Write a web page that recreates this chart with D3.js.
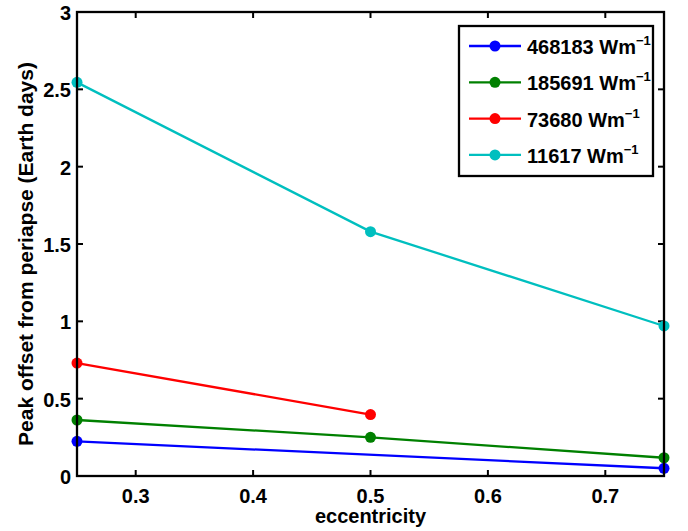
<!DOCTYPE html>
<html>
<head>
<meta charset="utf-8">
<script src="https://cdn.jsdelivr.net/npm/d3@7"></script>
<style>
  body { margin: 0; background: #fff; }
  text { font-family: "Liberation Sans", Arial, Helvetica, sans-serif; font-weight: bold; }
</style>
</head>
<body>
<div id="chart"></div>
<script>
// data
const seriesNames = ["468183", "185691", "73680", "11617"];
const seriesColors = ["#0000ff", "#008000", "#ff0000", "#00bfbf"];
const ecc468183 = [0.25, 0.75];
const peak468183 = [0.224, 0.05];
const ecc185691 = [0.25, 0.5, 0.75];
const peak185691 = [0.362, 0.25, 0.118];
const ecc73680 = [0.25, 0.5];
const peak73680 = [0.73, 0.397];
const ecc11617 = [0.25, 0.5, 0.75];
const peak11617 = [2.545, 1.58, 0.97];
const xTicks = [0.3, 0.4, 0.5, 0.6, 0.7];
const yTicks = [0, 0.5, 1, 1.5, 2, 2.5, 3];

const series = [
  { x: ecc468183, y: peak468183 },
  { x: ecc185691, y: peak185691 },
  { x: ecc73680, y: peak73680 },
  { x: ecc11617, y: peak11617 }
];

const width = 688;
const height = 531;
const margin = { top: 12, right: 24, bottom: 55, left: 77 };

const svg = d3.select("#chart").append("svg")
  .attr("width", width)
  .attr("height", height);

const xScale = d3.scaleLinear()
  .domain([0.25, 0.75])
  .range([margin.left, width - margin.right]);
const yScale = d3.scaleLinear()
  .domain([0, 3])
  .range([height - margin.bottom, margin.top]);

const x0 = margin.left, x1 = width - margin.right;
const y0 = height - margin.bottom, y1 = margin.top;
const tickLen = 6;

// ticks, inward, on all four sides (matlab box)
const axisG = svg.append("g").attr("stroke", "#000").attr("stroke-width", 2);
xTicks.forEach(t => {
  axisG.append("line").attr("x1", xScale(t)).attr("x2", xScale(t)).attr("y1", y0).attr("y2", y0 - tickLen);
  axisG.append("line").attr("x1", xScale(t)).attr("x2", xScale(t)).attr("y1", y1).attr("y2", y1 + tickLen);
});
yTicks.forEach(t => {
  axisG.append("line").attr("x1", x0).attr("x2", x0 + tickLen).attr("y1", yScale(t)).attr("y2", yScale(t));
  axisG.append("line").attr("x1", x1).attr("x2", x1 - tickLen).attr("y1", yScale(t)).attr("y2", yScale(t));
});

// tick labels
svg.append("g").selectAll("text").data(xTicks).join("text")
  .attr("x", d => xScale(d))
  .attr("y", y0 + 27)
  .attr("text-anchor", "middle")
  .attr("font-size", 20)
  .text(d => d);
svg.append("g").selectAll("text").data(yTicks).join("text")
  .attr("x", x0 - 6)
  .attr("y", d => yScale(d) + 8)
  .attr("text-anchor", "end")
  .attr("font-size", 20)
  .text(d => d);

// lines + markers
const line = d3.line()
  .x(d => xScale(d[0]))
  .y(d => yScale(d[1]));

series.forEach((s, i) => {
  const pts = s.x.map((v, j) => [v, s.y[j]]);
  svg.append("path")
    .attr("fill", "none")
    .attr("stroke", seriesColors[i])
    .attr("stroke-width", 2.3)
    .attr("d", line(pts));
  svg.append("g").selectAll("circle").data(pts).join("circle")
    .attr("cx", d => xScale(d[0]))
    .attr("cy", d => yScale(d[1]))
    .attr("r", 5.5)
    .attr("fill", seriesColors[i]);
});

// box
svg.append("rect")
  .attr("x", x0).attr("y", y1)
  .attr("width", x1 - x0).attr("height", y0 - y1)
  .attr("fill", "none")
  .attr("stroke", "#000")
  .attr("stroke-width", 2.3);

// axis labels
svg.append("text")
  .attr("x", (x0 + x1) / 2)
  .attr("y", 523)
  .attr("text-anchor", "middle")
  .attr("font-size", 20)
  .text("eccentricity");
svg.append("text")
  .attr("transform", "translate(33," + 254 + ") rotate(-90)")
  .attr("text-anchor", "middle")
  .attr("font-size", 21)
  .text("Peak offset from periapse (Earth days)");

// legend
const legend = svg.append("g");
legend.append("rect")
  .attr("x", 459).attr("y", 26)
  .attr("width", 194).attr("height", 150)
  .attr("fill", "#fff")
  .attr("stroke", "#000")
  .attr("stroke-width", 2.3);
seriesNames.forEach((name, i) => {
  const ly = 46 + i * 36.3;
  legend.append("line")
    .attr("x1", 469).attr("x2", 521)
    .attr("y1", ly).attr("y2", ly)
    .attr("stroke", seriesColors[i])
    .attr("stroke-width", 2.3);
  legend.append("circle")
    .attr("cx", 495).attr("cy", ly).attr("r", 5.5)
    .attr("fill", seriesColors[i]);
  const t = legend.append("text")
    .attr("x", 527).attr("y", ly + 8)
    .attr("font-size", 20);
  t.append("tspan").text(name + " Wm");
  t.append("tspan").attr("dy", -9).attr("font-size", 13).text("\u22121");
});
</script>
</body>
</html>
